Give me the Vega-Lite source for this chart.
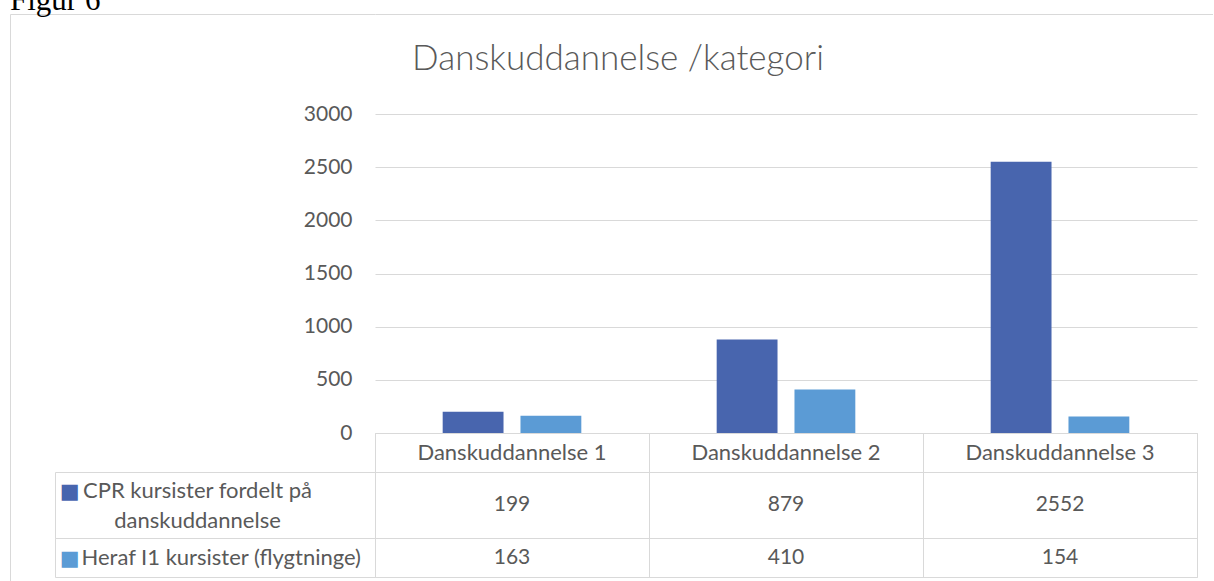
{
  "$schema": "https://vega.github.io/schema/vega-lite/v6.json",
  "padding": {"left": 10, "top": -15, "right": 0, "bottom": 0},
  "background": "white",
  "config": {
    "font": "Lato",
    "view": {"stroke": "#D9D9D9", "strokeWidth": 1}
  },
  "datasets": {
    "tbl": [
      {"category": "Danskuddannelse 1", "series": "CPR kursister fordelt på danskuddannelse", "value": 199},
      {"category": "Danskuddannelse 2", "series": "CPR kursister fordelt på danskuddannelse", "value": 879},
      {"category": "Danskuddannelse 3", "series": "CPR kursister fordelt på danskuddannelse", "value": 2552},
      {"category": "Danskuddannelse 1", "series": "Heraf I1 kursister (flygtninge)", "value": 163},
      {"category": "Danskuddannelse 2", "series": "Heraf I1 kursister (flygtninge)", "value": 410},
      {"category": "Danskuddannelse 3", "series": "Heraf I1 kursister (flygtninge)", "value": 154}
    ]
  },
  "title": {"text": "Figur 6", "font": "Liberation Serif", "fontSize": 31, "fontWeight": "normal", "color": "#000000", "anchor": "start", "frame": "bounds", "offset": -3},
  "bounds": "flush",
  "spacing": 0,
  "hconcat": [
    {
      "width": 365,
      "height": 567,
      "view": {"stroke": null},
      "data": {"values": [{}]},
      "mark": {"type": "text", "text": ""},
      "encoding": {
        "x": {"datum": 0, "type": "quantitative", "scale": {"domain": [0, 1]}, "axis": {"orient": "top", "title": null, "labels": false, "ticks": false, "grid": false, "domain": true, "domainColor": "#D9D9D9", "domainWidth": 1}},
        "y": {"datum": 0, "type": "quantitative", "scale": {"domain": [0, 1]}, "axis": {"orient": "left", "title": null, "labels": false, "ticks": false, "grid": false, "domain": true, "domainColor": "#D9D9D9", "domainWidth": 1}}
      }
    },
    {
      "bounds": "flush",
      "spacing": 0,
      "vconcat": [
        {
          "width": 838,
          "height": 100,
          "view": {"stroke": null},
          "title": {"text": "Danskuddannelse /kategori", "font": "Lato", "fontSize": 35, "fontWeight": 300, "color": "#595959", "anchor": "middle", "frame": "group", "dx": -176, "offset": -63},
          "data": {"values": [{}]},
          "mark": {"type": "text", "text": ""},
          "encoding": {
            "x": {"datum": 0, "type": "quantitative", "scale": {"domain": [0, 1]}, "axis": {"orient": "top", "title": null, "labels": false, "ticks": false, "grid": false, "domain": true, "domainColor": "#D9D9D9", "domainWidth": 1}}
          }
        },
        {
          "width": 822,
          "height": 319,
          "view": {"stroke": null},
          "data": {"name": "tbl"},
          "mark": {"type": "bar"},
          "encoding": {
            "x": {"field": "category", "type": "nominal", "sort": null, "scale": {"paddingInner": 0, "paddingOuter": 0}, "axis": null},
            "xOffset": {"field": "series", "type": "nominal", "sort": null, "scale": {"paddingInner": 0.218, "paddingOuter": 0.87}},
            "y": {"field": "value", "type": "quantitative", "scale": {"domain": [0, 3000], "nice": false},
                  "axis": {"values": [0, 500, 1000, 1500, 2000, 2500, 3000], "format": "d", "title": null, "domain": false, "ticks": false, "gridColor": "#D9D9D9", "gridWidth": 1, "labelFont": "Lato", "labelFontSize": 21, "labelColor": "#595959", "labelPadding": 23}},
            "color": {"field": "series", "type": "nominal", "sort": null, "scale": {"range": ["#4865AE", "#5B9BD5"]}, "legend": null}
          }
        },
        {
          "width": 822,
          "height": 39,
          "data": {"name": "tbl"},
          "transform": [{"filter": "datum.series == 'CPR kursister fordelt på danskuddannelse'"}],
          "mark": {"type": "text", "font": "Lato", "fontSize": 22, "color": "#595959"},
          "encoding": {
            "x": {"field": "category", "type": "nominal", "sort": null, "scale": {"paddingInner": 0, "paddingOuter": 0},
                  "axis": {"title": null, "labels": false, "ticks": false, "domain": false, "grid": true, "tickBand": "extent", "gridColor": "#D9D9D9"}},
            "text": {"field": "category"}
          }
        },
        {
          "width": 822,
          "height": 66,
          "data": {"name": "tbl"},
          "transform": [{"filter": "datum.series == 'CPR kursister fordelt på danskuddannelse'"}],
          "layer": [
            {
              "mark": {"type": "text", "font": "Lato", "fontSize": 21, "color": "#595959"},
              "encoding": {
                "x": {"field": "category", "type": "nominal", "sort": null, "scale": {"paddingInner": 0, "paddingOuter": 0},
                      "axis": {"title": null, "labels": false, "ticks": false, "domain": false, "grid": true, "tickBand": "extent", "gridColor": "#D9D9D9"}},
                "y": {"field": "series", "type": "nominal", "scale": {"paddingInner": 0, "paddingOuter": 0},
                      "axis": {"title": null, "orient": "left", "tickBand": "extent", "ticks": true, "tickSize": 320, "tickColor": "#D9D9D9", "domain": true, "domainColor": "#D9D9D9", "labelAlign": "center", "labelPadding": -142, "labelOffset": -15, "labelFont": "Lato", "labelFontSize": 22, "labelColor": "#595959", "labelLimit": 500, "labelLineHeight": 30, "labelOverlap": false,
                               "labelExpr": "indexof(datum.label, ' på ') > 0 ? [substring(datum.label, 0, indexof(datum.label, ' på ') + 3), substring(datum.label, indexof(datum.label, ' på ') + 4)] : datum.label"}},
                "text": {"field": "value"}
              }
            },
            {
              "mark": {"type": "text", "text": ""},
              "encoding": {
                "y": {"field": "series", "type": "nominal", "scale": {"paddingInner": 0, "paddingOuter": 0},
                      "axis": {"title": null, "orient": "left", "offset": 320, "ticks": false, "domain": true, "domainColor": "#D9D9D9", "labelAlign": "right", "labelPadding": -24, "labelFont": "DejaVu Sans", "labelFontSize": 21, "labelColor": "#4865AE", "labelOffset": -14, "labelExpr": "'■'"}}
              }
            }
          ],
          "resolve": {"scale": {"y": "independent"}, "axis": {"y": "independent"}}
        },
        {
          "width": 822,
          "height": 39,
          "data": {"name": "tbl"},
          "transform": [{"filter": "datum.series == 'Heraf I1 kursister (flygtninge)'"}],
          "layer": [
            {
              "mark": {"type": "text", "font": "Lato", "fontSize": 21, "color": "#595959"},
              "encoding": {
                "x": {"field": "category", "type": "nominal", "sort": null, "scale": {"paddingInner": 0, "paddingOuter": 0},
                      "axis": {"title": null, "labels": false, "ticks": false, "domain": false, "grid": true, "tickBand": "extent", "gridColor": "#D9D9D9"}},
                "y": {"field": "series", "type": "nominal", "scale": {"paddingInner": 0, "paddingOuter": 0},
                      "axis": {"title": null, "orient": "left", "tickBand": "extent", "ticks": true, "tickSize": 320, "tickColor": "#D9D9D9", "domain": true, "domainColor": "#D9D9D9", "labelAlign": "left", "labelPadding": -26, "labelFont": "Lato", "labelFontSize": 22, "labelColor": "#595959", "labelLimit": 500, "labelOverlap": false}},
                "text": {"field": "value"}
              }
            },
            {
              "mark": {"type": "text", "text": ""},
              "encoding": {
                "y": {"field": "series", "type": "nominal", "scale": {"paddingInner": 0, "paddingOuter": 0},
                      "axis": {"title": null, "orient": "left", "offset": 320, "ticks": false, "domain": true, "domainColor": "#D9D9D9", "labelAlign": "right", "labelPadding": -24, "labelFont": "DejaVu Sans", "labelFontSize": 21, "labelColor": "#5B9BD5", "labelOffset": 1, "labelExpr": "'■'"}}
              }
            }
          ],
          "resolve": {"scale": {"y": "independent"}, "axis": {"y": "independent"}}
        }
      ]
    }
  ]
}
